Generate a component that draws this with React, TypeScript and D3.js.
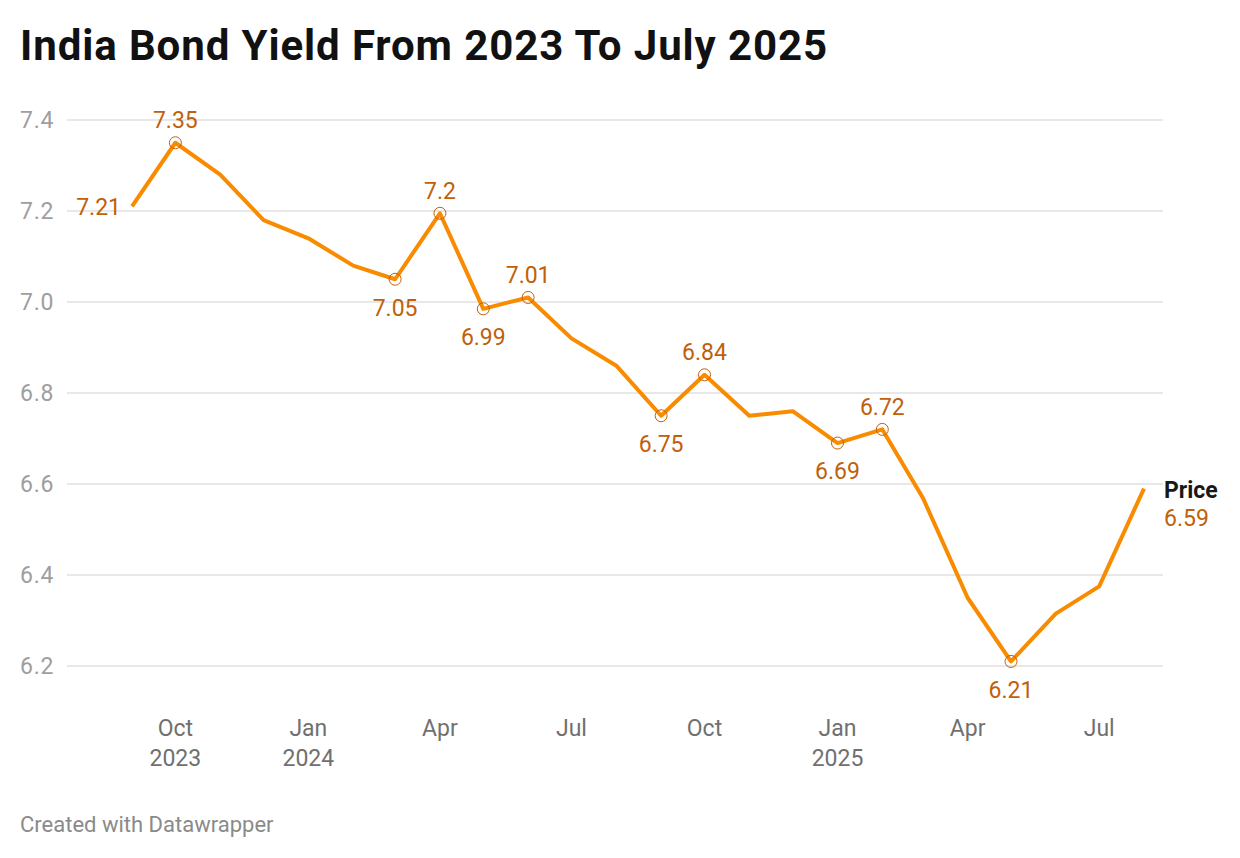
import * as d3 from 'd3';

const months: string[] = [
  '2023-09', '2023-10', '2023-11', '2023-12',
  '2024-01', '2024-02', '2024-03', '2024-04', '2024-05', '2024-06',
  '2024-07', '2024-08', '2024-09', '2024-10', '2024-11', '2024-12',
  '2025-01', '2025-02', '2025-03', '2025-04', '2025-05', '2025-06',
  '2025-07', '2025-08',
];

const yields: number[] = [
  7.21, 7.35, 7.28, 7.18,
  7.14, 7.08, 7.05, 7.195, 6.985, 7.01,
  6.92, 6.86, 6.75, 6.84, 6.75, 6.76,
  6.69, 6.72, 6.57, 6.35, 6.21, 6.315,
  6.375, 6.59,
];

// months that get a circle + value label
const labelledMonths: string[] = [
  '2023-10', '2024-03', '2024-04', '2024-05', '2024-06',
  '2024-09', '2024-10', '2025-01', '2025-02', '2025-05',
];

const yTicks: number[] = [6.2, 6.4, 6.6, 6.8, 7.0, 7.2, 7.4];
const xTicks: string[] = ['2023-10', '2024-01', '2024-04', '2024-07', '2024-10', '2025-01', '2025-04', '2025-07'];

const title = 'India Bond Yield From 2023 To July 2025';
const seriesName = 'Price';

const width = 1240;
const height = 858;
const font = 'Roboto, "Noto Sans", sans-serif';
const lineColor = '#f98b00';
const labelColor = '#c0600b';

const parse = d3.timeParse('%Y-%m');
const fmtValue = (v: number) => String(+v.toFixed(2));

export default function App() {
  const data = months.map((m, i) => ({ date: parse(m)!, value: yields[i], key: m }));

  const x = d3.scaleTime()
    .domain([data[0].date, data[data.length - 1].date])
    .range([132, 1144]);

  const y = d3.scaleLinear()
    .domain([6.2, 7.4])
    .range([666, 120]);

  const line = d3.line<{ date: Date; value: number }>()
    .x(d => x(d.date))
    .y(d => y(d.value));

  const first = data[0];
  const last = data[data.length - 1];

  return (
    <div>
      <style>{'body{margin:0}'}</style>
      <svg width={width} height={height} style={{ display: 'block', fontFamily: font }}>
        <rect width={width} height={height} fill="#fff" />
        <text x={20} y={60} fontSize={42} fontWeight={700} letterSpacing={0.9} fill="#111">{title}</text>

        {/* grid + y labels */}
        {yTicks.map(t => (
          <g key={t}>
            <line x1={67} x2={1163} y1={y(t)} y2={y(t)} stroke="#e1e1e1" strokeWidth={1.5} />
            <text x={20} y={y(t)} dy="0.36em" fontSize={23} letterSpacing={0.8} fill="#9e9e9e">{d3.format('.1f')(t)}</text>
          </g>
        ))}

        {/* x labels */}
        {xTicks.map(m => {
          const d = parse(m)!;
          const showYear = d.getMonth() === 0 || m === xTicks[0];
          return (
            <g key={m}>
              <text x={x(d)} y={736} textAnchor="middle" fontSize={23} fill="#707070">{d3.timeFormat('%b')(d)}</text>
              {showYear && (
                <text x={x(d)} y={766} textAnchor="middle" fontSize={23} fill="#707070">{d3.timeFormat('%Y')(d)}</text>
              )}
            </g>
          );
        })}

        <path d={line(data) || ''} fill="none" stroke={lineColor} strokeWidth={4} strokeLinejoin="round" />

        {data.map((d, i) => {
          if (!labelledMonths.includes(d.key)) return null;
          const prev = data[i - 1]?.value ?? -Infinity;
          const next = data[i + 1]?.value ?? -Infinity;
          const above = d.value >= prev && d.value >= next;
          return (
            <g key={d.key}>
              <circle cx={x(d.date)} cy={y(d.value)} r={6} fill="none" stroke={labelColor} strokeWidth={1} />
              <text
                x={x(d.date)}
                y={y(d.value) + (above ? -23 : 28)}
                dy="0.36em"
                textAnchor="middle"
                fontSize={23}
                fill={labelColor}
              >
                {fmtValue(d.value)}
              </text>
            </g>
          );
        })}

        {/* start label */}
        <text x={x(first.date) - 11} y={y(first.value)} dy="0.36em" textAnchor="end" fontSize={23} fill={labelColor}>
          {fmtValue(first.value)}
        </text>

        {/* end label */}
        <text x={1164} y={490} dy="0.36em" fontSize={23} fontWeight={700} fill="#181818">{seriesName}</text>
        <text x={1164} y={518} dy="0.36em" fontSize={23} fill={labelColor}>{fmtValue(last.value)}</text>

        <text x={20} y={832} fontSize={22} fill="#8a8a8a">Created with Datawrapper</text>
      </svg>
    </div>
  );
}
